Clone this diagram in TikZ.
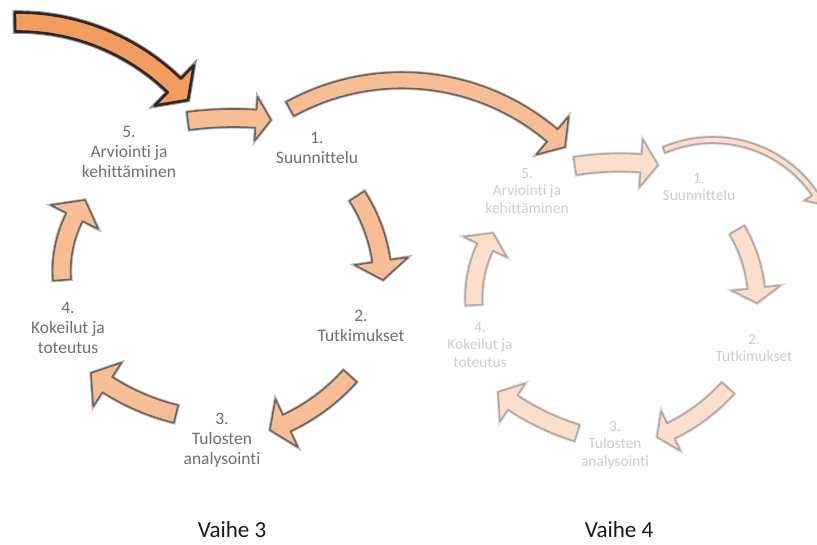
\documentclass[tikz,border=0pt]{standalone}
\usepackage{fontspec}
\setmainfont{Carlito}[Ligatures=NoCommon]
\definecolor{lfill}{RGB}{247,189,149}
\definecolor{ledge}{RGB}{108,100,95}
\definecolor{lhalo}{RGB}{190,187,185}
\definecolor{dfill}{RGB}{243,156,96}
\definecolor{dedge}{RGB}{45,40,38}
\definecolor{dhalo}{RGB}{150,145,142}
\definecolor{ffill}{RGB}{251,222,203}
\definecolor{fedge}{RGB}{178,168,162}
\definecolor{fhalo}{RGB}{222,220,218}
\definecolor{ltext}{RGB}{112,112,112}
\definecolor{ftext}{RGB}{205,205,205}
\definecolor{vtext}{RGB}{25,25,25}
\tikzset{
  lab/.style={align=center, inner sep=0pt, text=ltext, font=\fontsize{17.5}{20}\selectfont},
  flab/.style={align=center, inner sep=0pt, text=ftext, font=\fontsize{15.5}{17.5}\selectfont},
  vlab/.style={inner sep=0pt, text=vtext, font=\fontsize{23}{26}\selectfont},
  larrow/.style={preaction={draw=lhalo,line width=3.4pt}, fill=lfill, draw=ledge, line width=1.6pt, line join=round},
  darrow/.style={preaction={draw=dhalo,line width=4.6pt}, fill=dfill, draw=dedge, line width=2.6pt, line join=round},
  farrow/.style={preaction={draw=fhalo,line width=3.4pt}, fill=ffill, draw=fedge, line width=1.6pt, line join=round},
}
% curved block arrow: #1 style, tail (#2,#3), tip (#4,#5), sagitta #6, shaft width #7, head half width #8, head length #9
\newcommand\barrow[9]{%
  \pgfmathsetmacro\bdx{#4-#2}%
  \pgfmathsetmacro\bdy{#5-#3}%
  \pgfmathsetmacro\bd{sqrt(\bdx*\bdx+\bdy*\bdy)}%
  \pgfmathsetmacro\bnx{-\bdy/\bd}%
  \pgfmathsetmacro\bny{\bdx/\bd}%
  \pgfmathsetmacro\br{(\bd*\bd/4+(#6)*(#6))/(2*(#6))}%
  \pgfmathsetmacro\bcx{(#2+#4)/2+((#6)-\br)*\bnx}%
  \pgfmathsetmacro\bcy{(#3+#5)/2+((#6)-\br)*\bny}%
  \pgfmathsetmacro\bR{abs(\br)}%
  \pgfmathsetmacro\baT{atan2((#3)-\bcy,(#2)-\bcx)}%
  \pgfmathsetmacro\bth{4*atan(abs(#6)/(\bd/2))}%
  \pgfmathsetmacro\bsg{((#6)>0)?-1:1}%
  \pgfmathsetmacro\baP{\baT+\bsg*\bth}%
  \pgfmathsetmacro\baH{\baP-\bsg*(#9)/\bR*180/pi}%
  \pgfmathsetmacro\bro{\bR+(#7)/2}%
  \pgfmathsetmacro\bri{\bR-(#7)/2}%
  \pgfmathsetmacro\bho{\bR+(#8)}%
  \pgfmathsetmacro\bhi{\bR-(#8)}%
  \path[#1] plot[domain=\baT:\baH,samples=40,variable=\t] ({\bcx+\bro*cos(\t)},{\bcy+\bro*sin(\t)})
    -- ({\bcx+\bho*cos(\baH)},{\bcy+\bho*sin(\baH)})
    -- ({\bcx+\bR*cos(\baP)},{\bcy+\bR*sin(\baP)})
    -- ({\bcx+\bhi*cos(\baH)},{\bcy+\bhi*sin(\baH)})
    -- plot[domain=\baH:\baT,samples=40,variable=\t] ({\bcx+\bri*cos(\t)},{\bcy+\bri*sin(\t)})
    -- cycle;%
}
\begin{document}
\begin{tikzpicture}[x=10pt,y=-10pt]
\useasboundingbox[fill=white] (0,0) rectangle (81.7,54.4);
\clip (0,0) rectangle (81.7,54.4);

% Vaihe 4 (faded)
\barrow{farrow}{57.5}{16.6}{65.8}{16.5}{-0.3}{1.8}{2.4}{1.7}
\barrow{farrow}{66.4}{15.0}{82.1}{20.4}{-3.2}{0.6}{1.2}{1.2}
\barrow{farrow}{73.7}{23.0}{75.7}{30.3}{-0.5}{1.7}{2.45}{1.5}
\barrow{farrow}{72.8}{38.8}{65.7}{43.7}{-0.5}{1.7}{2.2}{1.5}
\barrow{farrow}{57.7}{43.3}{49.8}{39.2}{-0.4}{1.7}{2.3}{1.8}
\barrow{farrow}{47.4}{30.5}{49.3}{23.3}{-0.6}{1.7}{2.4}{1.6}

% Vaihe 3
\barrow{darrow}{1.5}{2.2}{18.8}{10.0}{-2.1}{1.9}{2.8}{2.0}
\barrow{larrow}{18.8}{12.1}{27.1}{12.0}{-0.25}{1.8}{2.2}{1.5}
\barrow{larrow}{35.7}{19.6}{38.3}{28.0}{-0.6}{1.8}{2.7}{1.9}
\barrow{larrow}{35.0}{37.6}{27.0}{43.0}{-0.6}{1.8}{2.65}{1.8}
\barrow{larrow}{17.6}{41.4}{9.1}{37.3}{-0.5}{1.8}{2.6}{2.0}
\barrow{larrow}{6.2}{28.0}{8.5}{20.0}{-0.75}{1.8}{2.65}{2.0}
\barrow{larrow}{29.0}{10.9}{56.5}{14.7}{-4.6}{1.6}{2.5}{1.7}

% labels Vaihe 3
\node[lab] (a1) at (31.7,14.8) {1.\\Suunnittelu};
\node[lab] (a2) at (36.1,32.6) {2.\\Tutkimukset};
\node[lab] (a3) at (22.2,44.0) {3.\\Tulosten\\analysointi};
\node[lab] (a4) at (6.8,32.8) {4.\\Kokeilut ja\\toteutus};
\node[lab] (a5) at (12.9,15.2) {5.\\Arviointi ja\\kehittäminen};

% labels Vaihe 4
\node[flab] (b1) at (69.9,18.7) {1.\\Suunnittelu};
\node[flab] (b2) at (75.4,34.8) {2.\\Tutkimukset};
\node[flab] (b3) at (61.5,44.5) {3.\\Tulosten\\analysointi};
\node[flab] (b4) at (48.0,34.5) {4.\\Kokeilut ja\\toteutus};
\node[flab] (b5) at (52.7,19.1) {5.\\Arviointi ja\\kehittäminen};

\node[vlab] (v3) at (23.2,53.0) {Vaihe 3};
\node[vlab] (v4) at (61.9,53.0) {Vaihe 4};
\end{tikzpicture}
\end{document}
